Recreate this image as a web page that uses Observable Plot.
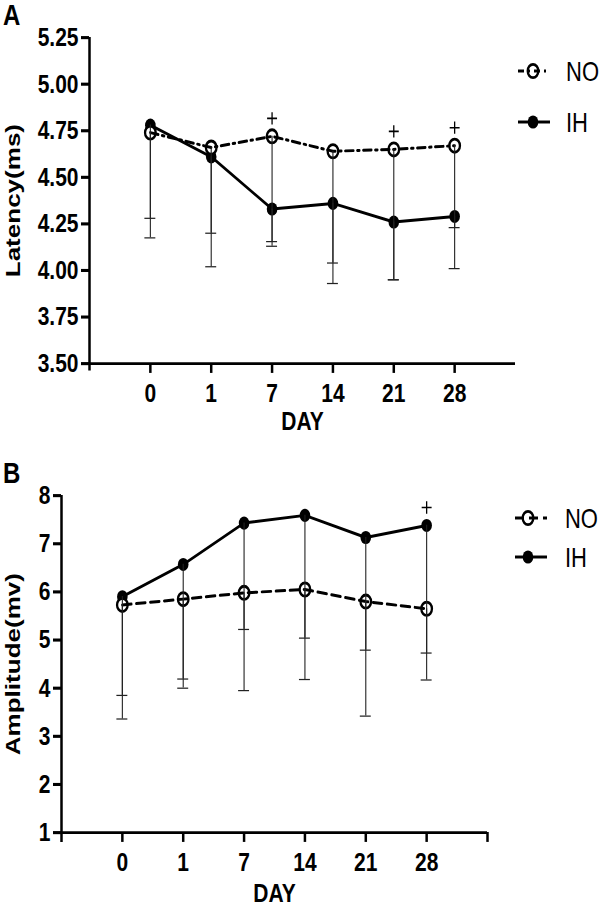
<!DOCTYPE html>
<html>
<head>
<meta charset="utf-8">
<script src="https://cdn.jsdelivr.net/npm/d3@7"></script>
<script src="https://cdn.jsdelivr.net/npm/@observablehq/plot@0.6"></script>
<style>
  html, body { margin: 0; padding: 0; background: #fff; }
  #wrap { position: relative; width: 600px; height: 908px; overflow: hidden; background: #fff; }
  #wrap svg { position: absolute; left: 0; overflow: visible; }
</style>
</head>
<body>
<div id="wrap"></div>
<script>
// ---- data ----
const days = ["0", "1", "7", "14", "21", "28"];

// Panel A: latency (ms)
const latNO    = [4.74, 4.66, 4.72, 4.64, 4.65, 4.67];
const latIH    = [4.78, 4.61, 4.33, 4.36, 4.26, 4.29];
const latNOlow = [4.28, 4.20, 4.13, 4.04, 3.95, 4.23];
const latIHlow = [4.175, 4.02, 4.155, 3.93, 3.95, 4.01];
const latSigNO = ["7", "21", "28"];
const latTicks = [3.5, 3.75, 4.0, 4.25, 4.5, 4.75, 5.0, 5.25];

// Panel B: amplitude (mv)
const ampNO    = [5.73, 5.85, 5.98, 6.05, 5.80, 5.65];
const ampIH    = [5.90, 6.57, 7.43, 7.59, 7.13, 7.38];
const ampNOlow = [3.85, 4.19, 5.22, 5.04, 4.79, 4.73];
const ampIHlow = [3.36, 4.00, 3.95, 4.18, 3.42, 4.17];
const ampSigIH = ["28"];
const ampTicks = [1, 2, 3, 4, 5, 6, 7, 8];

const seriesNames = ["NO", "IH"];

// ---- drawing ----
const S = 1.24; // vertical stretch of the original figure
const FONT = "'Liberation Sans', Arial, Helvetica, sans-serif";

function panel(cfg) {
  const rows = days.map((d, i) => ({
    i, day: d,
    NO: cfg.NO[i], IH: cfg.IH[i],
    NOlow: cfg.NOlow[i], IHlow: cfg.IHlow[i]
  }));
  const sigRows = rows.filter(r => cfg.sig.includes(r.day));
  const H = cfg.H / S;
  const marginTop = cfg.yTop / S;
  const marginBottom = (cfg.H - cfg.yBot) / S;
  const xTicks = cfg.endTick ? [0, 1, 2, 3, 4, 5, 6] : [0, 1, 2, 3, 4, 5];
  const y0 = cfg.yDomain[0], y1 = cfg.yDomain[1];

  const svg = Plot.plot({
    width: 600,
    height: H,
    marginLeft: cfg.marginLeft,
    marginRight: cfg.marginRight,
    marginTop, marginBottom,
    style: { fontFamily: FONT, background: "#fff", color: "#000" },
    x: { type: "linear", domain: [-1, 6] },
    y: { type: "linear", domain: cfg.yDomain },
    marks: [
      // axis lines
      Plot.ruleY([y0], { x1: -1, x2: 6, strokeWidth: 2.1 }),
      Plot.ruleX([-1], { y1: y1, y2: y0, insetBottom: -cfg.ext, strokeWidth: 2.5 }),
      // IH series
      Plot.line(rows, { x: "i", y: "IH", strokeWidth: 2.4 }),
      Plot.dot(rows, { x: "i", y: "IH", r: 5.3, fill: "#000", stroke: "none" }),
      // NO series
      Plot.dot(rows, { x: "i", y: "NO", r: 5.3, fill: "#fff", stroke: "#000", strokeWidth: 2.3 }),
      Plot.line(rows, { x: "i", y: "NO", strokeWidth: 2.4, strokeDasharray: cfg.noDash }),
      // error bars (lower only)
      Plot.ruleX(rows, { x: "i", y1: "NO", y2: "NOlow", strokeWidth: 1.1, stroke: "#222" }),
      Plot.ruleX(rows, { x: "i", y1: "IH", y2: "IHlow", strokeWidth: 1.1, stroke: "#222" }),
      Plot.ruleY(rows, { y: "NOlow", x1: d => d.i - 0.09, x2: d => d.i + 0.09, strokeWidth: 1, stroke: "#222" }),
      Plot.ruleY(rows, { y: "IHlow", x1: d => d.i - 0.09, x2: d => d.i + 0.09, strokeWidth: 1, stroke: "#222" }),
      // significance marks ("+")
      Plot.dot(sigRows, { x: "i", y: cfg.sigSeries, symbol: "plus", r: 3.3, dy: -14.5, stroke: "#000", fill: "none", strokeWidth: 1.3 }),
      // axes
      Plot.axisY({
        ticks: cfg.yTicks, tickSize: 8, tickPadding: 3, strokeWidth: 2.5,
        tickFormat: cfg.yFmt, fontSize: 21, fontWeight: "bold", label: null
      }),
      Plot.axisX({
        ticks: xTicks, tickSize: 8, tickPadding: 8, strokeWidth: 2.5,
        tickFormat: i => days[i] ?? "", fontSize: 21, fontWeight: "bold", label: null
      }),
      Plot.text(["DAY"], { frameAnchor: "bottom", dy: cfg.dayDy, lineAnchor: "middle", textAnchor: "middle", fontSize: 21, fontWeight: "bold" }),
      Plot.text([cfg.ylabel], { frameAnchor: "left", dx: -(cfg.marginLeft - 13), rotate: -90, textAnchor: "middle", lineAnchor: "middle", fontSize: 21, fontWeight: "bold" })
    ]
  });

  // stretch vertically via viewBox
  svg.setAttribute("height", cfg.H);
  svg.setAttribute("preserveAspectRatio", "none");
  svg.style.height = cfg.H + "px";
  svg.style.width = "600px";
  svg.style.maxWidth = "none";
  svg.style.top = cfg.top + "px";

  const g = d3.select(svg).append("g").attr("font-family", FONT).attr("text-anchor", "start");
  // panel letter
  g.append("text").attr("x", 3).attr("y", cfg.letterY / S)
    .attr("font-size", 24).attr("font-weight", "bold").attr("text-anchor", "start").text(cfg.letter);
  // legend
  const L = cfg.legend;
  seriesNames.forEach((name, k) => {
    const yy = L.rows[k] / S;
    const isNO = name === "NO";
    if (isNO) {
      g.append("circle").attr("cx", L.cx).attr("cy", yy).attr("r", 5.3)
        .attr("fill", "#fff").attr("stroke", "#000").attr("stroke-width", 2.3);
    }
    g.append("line").attr("x1", L.x1).attr("x2", L.x2).attr("y1", yy).attr("y2", yy)
      .attr("stroke", "#000").attr("stroke-width", 2.4)
      .attr("stroke-dasharray", isNO ? L.dash : null);
    if (!isNO) {
      g.append("circle").attr("cx", L.cx).attr("cy", yy).attr("r", 5.3).attr("fill", "#000");
    }
    g.append("text").attr("x", L.tx).attr("y", yy).attr("dy", "0.35em")
      .attr("font-size", 22).attr("text-anchor", "start").text(name);
  });

  document.getElementById("wrap").appendChild(svg);
}

panel({
  top: 0, H: 440, yTop: 37, yBot: 363,
  yDomain: [3.5, 5.25], yTicks: latTicks, yFmt: d3.format(".2f"),
  marginLeft: 89, marginRight: 85,
  NO: latNO, IH: latIH, NOlow: latNOlow, IHlow: latIHlow,
  sig: latSigNO, sigSeries: "NO",
  noDash: "8,4,2,4", endTick: false, ext: 6,
  dayDy: 47, ylabel: "Latency(ms)", letter: "A", letterY: 25,
  legend: { rows: [71, 122], x1: 518, x2: 550, cx: 533, tx: 566, dash: "6,4,2,4" }
});

panel({
  top: 440, H: 468, yTop: 55, yBot: 392,
  yDomain: [1, 8], yTicks: ampTicks, yFmt: d3.format("d"),
  marginLeft: 61, marginRight: 113,
  NO: ampNO, IH: ampIH, NOlow: ampNOlow, IHlow: ampIHlow,
  sig: ampSigIH, sigSeries: "IH",
  noDash: "9,5", endTick: true, ext: 8,
  dayDy: 49.5, ylabel: "Amplitude(mv)", letter: "B", letterY: 43,
  legend: { rows: [78, 117], x1: 515, x2: 547, cx: 528, tx: 565, dash: "9,5" }
});
</script>
</body>
</html>
